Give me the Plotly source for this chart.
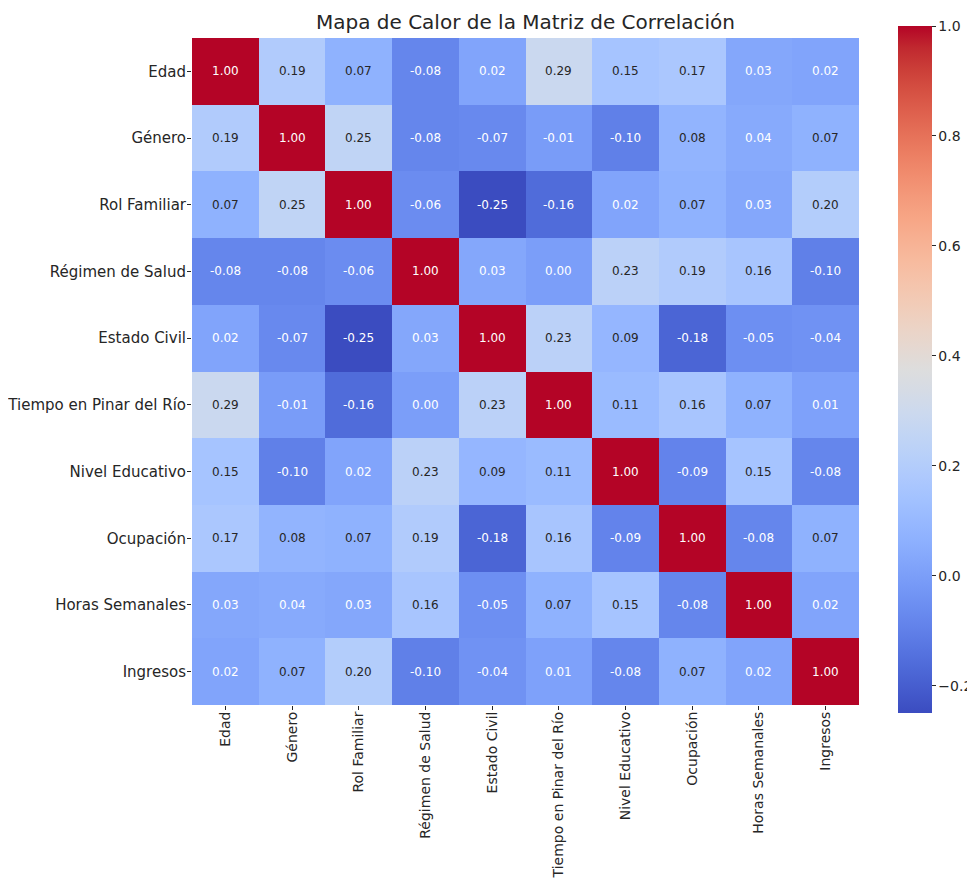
import plotly.graph_objects as go

labels = ["Edad", "Género", "Rol Familiar", "Régimen de Salud", "Estado Civil",
          "Tiempo en Pinar del Río", "Nivel Educativo", "Ocupación",
          "Horas Semanales", "Ingresos"]

row_edad = [1.00, 0.19, 0.07, -0.08, 0.02, 0.29, 0.15, 0.17, 0.03, 0.02]
row_genero = [0.19, 1.00, 0.25, -0.08, -0.07, -0.01, -0.10, 0.08, 0.04, 0.07]
row_rol = [0.07, 0.25, 1.00, -0.06, -0.25, -0.16, 0.02, 0.07, 0.03, 0.20]
row_regimen = [-0.08, -0.08, -0.06, 1.00, 0.03, 0.00, 0.23, 0.19, 0.16, -0.10]
row_estado = [0.02, -0.07, -0.25, 0.03, 1.00, 0.23, 0.09, -0.18, -0.05, -0.04]
row_tiempo = [0.29, -0.01, -0.16, 0.00, 0.23, 1.00, 0.11, 0.16, 0.07, 0.01]
row_nivel = [0.15, -0.10, 0.02, 0.23, 0.09, 0.11, 1.00, -0.09, 0.15, -0.08]
row_ocup = [0.17, 0.08, 0.07, 0.19, -0.18, 0.16, -0.09, 1.00, -0.08, 0.07]
row_horas = [0.03, 0.04, 0.03, 0.16, -0.05, 0.07, 0.15, -0.08, 1.00, 0.02]
row_ingresos = [0.02, 0.07, 0.20, -0.10, -0.04, 0.01, -0.08, 0.07, 0.02, 1.00]

z = [row_edad, row_genero, row_rol, row_regimen, row_estado,
     row_tiempo, row_nivel, row_ocup, row_horas, row_ingresos]

colorbar_ticks = [-0.2, 0.0, 0.2, 0.4, 0.6, 0.8, 1.0]
colorbar_ticktext = ["−0.2", "0.0", "0.2", "0.4", "0.6", "0.8", "1.0"]

# matplotlib 'coolwarm' (Moreland) sampled at 33 points
cw = [(59,76,192),(68,90,204),(77,104,215),(87,117,225),(98,130,234),(108,142,241),
      (119,154,247),(130,165,251),(141,176,254),(152,185,255),(163,194,255),(174,201,253),
      (184,208,249),(194,213,244),(204,217,238),(213,219,229),(221,221,221),(229,216,209),
      (236,211,197),(241,204,184),(245,196,172),(247,187,159),(247,177,147),(247,166,134),
      (244,154,123),(241,141,111),(236,127,99),(229,112,88),(222,96,77),(213,80,66),
      (203,62,56),(192,40,47),(180,4,38)]
colorscale = [[i / 32, "rgb(%d,%d,%d)" % c] for i, c in enumerate(cw)]

DARK = "#262626"
FONT = "DejaVu Sans"

# The page body adds an 8px margin, so the figure is 8px smaller and shifted.
OFF = 8
W, H = 975 - OFF, 882 - OFF
plot_l, plot_r = 192 - OFF, 859 - OFF
plot_t, plot_b = 38 - OFF, 705 - OFF
cb_l = 898 - OFF
top_px, bot_px = 26 - OFF, 713 - OFF
pw = plot_r - plot_l
ph = bot_px - top_px

fig = go.Figure()
fig.add_trace(go.Heatmap(
    z=z, x=labels, y=labels, colorscale=colorscale,
    zmin=-0.2497, zmax=1.0, xgap=0, ygap=0,
    colorbar=dict(
        thickness=34, thicknessmode="pixels",
        len=1.0, lenmode="fraction",
        x=(cb_l - plot_l) / pw, xanchor="left", xpad=0,
        y=0.5, yanchor="middle", ypad=0,
        outlinewidth=0,
        tickvals=colorbar_ticks,
        ticktext=colorbar_ticktext,
        ticks="outside", ticklen=4, tickwidth=1, tickcolor=DARK,
        tickfont=dict(family=FONT, size=14, color=DARK),
    ),
    hoverinfo="skip",
))

annotations = []
for i, row in enumerate(z):
    for j, v in enumerate(row):
        color = "white" if (v < 0.05 or v > 0.6) else DARK
        annotations.append(dict(
            x=labels[j], y=labels[i], xref="x", yref="y",
            text="%.2f" % v, showarrow=False,
            font=dict(family=FONT, size=12, color=color),
        ))

fig.update_layout(
    width=W, height=H,
    margin=dict(l=plot_l, r=W - plot_r, t=top_px, b=H - bot_px, autoexpand=False),
    paper_bgcolor="white", plot_bgcolor="white",
    title=dict(text="Mapa de Calor de la Matriz de Correlación",
               x=0.5, xref="paper", xanchor="center",
               y=1 - (22 - OFF) / H, yref="container", yanchor="middle",
               font=dict(family=FONT, size=20, color=DARK)),
    annotations=annotations,
    font=dict(family=FONT, color=DARK),
)
fig.update_xaxes(tickangle=-90, ticks="outside", ticklen=4, tickcolor=DARK,
                 tickfont=dict(family=FONT, size=14, color=DARK), automargin=False,
                 ticklabelstandoff=-4,
                 showgrid=False, zeroline=False, showline=False)
fig.update_yaxes(autorange="reversed", ticks="outside", ticklen=4, tickcolor=DARK,
                 tickfont=dict(family=FONT, size=15, color=DARK), automargin=False,
                 ticklabelstandoff=-2,
                 domain=[(bot_px - plot_b) / ph, (bot_px - plot_t) / ph],
                 showgrid=False, zeroline=False, showline=False)

fig.write_html("out.html")
